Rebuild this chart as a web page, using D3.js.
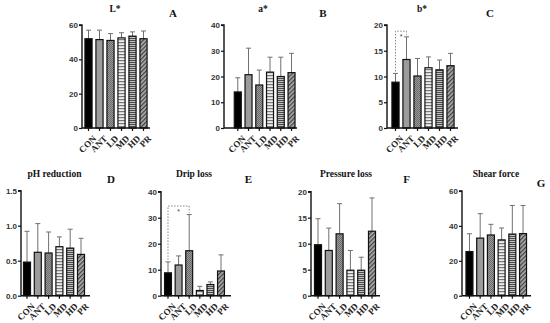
<!DOCTYPE html>
<html><head><meta charset="utf-8">
<script src="https://cdn.jsdelivr.net/npm/d3@7"></script>
<style>body{margin:0;background:#fff}svg{display:block}</style>
</head><body>
<script>
const categories = ["CON","ANT","LD","MD","HD","PR"];
const titles = ["L*","a*","b*","pH reduction","Drip loss","Pressure loss","Shear force"];
const letters = ["A","B","C","D","E","F","G"];
const Lstar = [52, 51.5, 51, 52.5, 53.5, 52];
const LstarErr = [57, 57, 55, 55.5, 56, 56.5];
const astar = [14, 20.7, 16.7, 21.7, 20, 21.5];
const astarErr = [19.5, 31, 22.5, 27.5, 27.5, 29];
const bstar = [8.9, 13.3, 10.1, 11.7, 11.3, 12.1];
const bstarErr = [10.6, 17.7, 13.5, 13.8, 13.2, 14.5];
const pH = [0.48, 0.62, 0.61, 0.70, 0.68, 0.59];
const pHErr = [0.92, 1.03, 0.91, 0.84, 0.95, 0.82];
const drip = [8.8, 11.8, 17.3, 2.0, 4.3, 9.5];
const dripErr = [13, 15.3, 31.2, 3.6, 5.3, 15.7];
const pressure = [9.8, 8.7, 11.9, 4.9, 4.9, 12.4];
const pressureErr = [14.8, 13, 17.7, 8.7, 7.4, 18.8];
const shear = [25.3, 33, 34.8, 32, 35.3, 35.6];
const shearErr = [35.5, 47, 40.9, 38.8, 51.7, 51.7];
const ticksA = [0,20,40,60], ticksB = [0,10,20,30,40], ticksC = [0,5,10,15,20],
      ticksD = [0,0.5,1.0,1.5], ticksE = [0,10,20,30,40], ticksF = [0,5,10,15,20], ticksG = [0,20,40,60];
// significance brackets: [from category, to category, bracket height value]
const sigC = ["CON","ANT",18.8];
const sigE = ["CON","LD",34.5];

const svg = d3.select("body").append("svg").attr("width",550).attr("height",323);
const defs = svg.append("defs");
function pat(id,w,h,bg,draw){
  const p = defs.append("pattern").attr("id",id).attr("patternUnits","userSpaceOnUse").attr("width",w).attr("height",h);
  p.append("rect").attr("width",w).attr("height",h).attr("fill",bg);
  draw(p);
}
pat("pLD",2,2,"#9a9a9a",p=>{p.append("rect").attr("width",1).attr("height",1).attr("fill","#6a6a6a");p.append("rect").attr("x",1).attr("y",1).attr("width",1).attr("height",1).attr("fill","#6a6a6a");});
pat("pMD",3,3,"#eeeeee",p=>{p.append("rect").attr("width",3).attr("height",1.2).attr("fill","#777");});
pat("pHD",2,2,"#c0c0c0",p=>{p.append("rect").attr("width",2).attr("height",1).attr("fill","#4a4a4a");});
pat("pPR",3,3,"#b0b0b0",p=>{p.attr("patternTransform","rotate(45)");p.append("rect").attr("width",1.3).attr("height",3).attr("fill","#404040");});
const fills = ["#000","#9c9c9c","url(#pLD)","url(#pMD)","url(#pHD)","url(#pPR)"];

const panels = [
 {v:Lstar,e:LstarErr,ticks:ticksA,max:60,ax:82,xe:150,band:[83,149],top:25,bot:128,tx:115,ty:12,lx:173,ly:17},
 {v:astar,e:astarErr,ticks:ticksB,max:40,ax:224,xe:297,band:[232.4,296.9],top:25,bot:128,tx:263,ty:12,lx:323,ly:17},
 {v:bstar,e:bstarErr,ticks:ticksC,max:20,ax:387,xe:458,band:[390,456],top:25,bot:128,tx:422,ty:12,lx:490,ly:17,sig:sigC},
 {v:pH,e:pHErr,ticks:ticksD,max:1.5,ax:21,xe:90,band:[21.6,86.4],top:190.7,bot:295.7,tx:54.5,ty:177,lx:111,ly:183,fmt:d3.format(".1f")},
 {v:drip,e:dripErr,ticks:ticksE,max:40,ax:161,xe:231,band:[162.7,226.3],top:191.7,bot:295.7,tx:194,ty:177,lx:248.5,ly:183,sig:sigE},
 {v:pressure,e:pressureErr,ticks:ticksF,max:20,ax:311,xe:380,band:[312.6,377.4],top:191.7,bot:295.7,tx:346,ty:177,lx:406.5,ly:183},
 {v:shear,e:shearErr,ticks:ticksG,max:60,ax:462,xe:531,band:[464.1,528.4],top:191,bot:295.7,tx:496,ty:177,lx:541,ly:187}
];

panels.forEach((P,i)=>{
  const g = svg.append("g");
  const x = d3.scaleBand().domain(categories).range(P.band).paddingInner(0.35).paddingOuter(0.175);
  const y = d3.scaleLinear().domain([0,P.max]).range([P.bot,P.top]);
  const data = categories.map((c,k)=>({c,v:P.v[k],e:P.e[k],k}));
  const eg = g.append("g").attr("stroke","#707070").attr("stroke-width",1);
  data.forEach(d=>{
    const cx = x(d.c)+x.bandwidth()/2;
    eg.append("line").attr("x1",cx).attr("x2",cx).attr("y1",y(d.v)).attr("y2",y(d.e));
    eg.append("line").attr("x1",cx-2.5).attr("x2",cx+2.5).attr("y1",y(d.e)).attr("y2",y(d.e));
  });
  g.selectAll("rect.bar").data(data).join("rect").attr("class","bar")
    .attr("x",d=>x(d.c)).attr("width",x.bandwidth())
    .attr("y",d=>y(d.v)).attr("height",d=>y(0)-y(d.v))
    .attr("fill",d=>fills[d.k]).attr("stroke","#111").attr("stroke-width",1.2);
  const ya = g.append("g").attr("transform",`translate(${P.ax},0)`)
    .call(d3.axisLeft(y).tickValues(P.ticks).tickSize(3).tickPadding(1).tickFormat(P.fmt||d3.format("d")));
  ya.select(".domain").attr("stroke","#111").attr("stroke-width",1.4).attr("d",`M-3,${P.top}H0V${P.bot}`);
  ya.selectAll(".tick line").attr("stroke","#111").attr("stroke-width",1.2);
  ya.selectAll(".tick text").attr("font-family","Liberation Sans, Arial, sans-serif").attr("font-weight","bold").attr("font-size",8).attr("fill","#333");
  const xa = g.append("g").attr("transform",`translate(0,${P.bot})`).call(d3.axisBottom(x).tickSize(3).tickSizeOuter(0));
  xa.select(".domain").attr("stroke","#111").attr("stroke-width",1.4).attr("d",`M${P.ax},0H${P.xe}`);
  xa.selectAll(".tick line").attr("stroke","#111").attr("stroke-width",1.2);
  xa.selectAll(".tick text").attr("font-family","Liberation Serif, Times New Roman, serif").attr("font-weight","bold").attr("font-size",9).attr("fill","#222")
    .attr("text-anchor","end").attr("dy",0).attr("transform","translate(4,7) rotate(-45)");
  g.append("text").attr("x",P.tx).attr("y",P.ty).attr("text-anchor","middle").attr("font-family","Liberation Serif, Times New Roman, serif").attr("font-weight","bold").attr("font-size",9.5).attr("fill","#111").text(titles[i]);
  g.append("text").attr("x",P.lx).attr("y",P.ly).attr("text-anchor","middle").attr("font-family","Liberation Serif, Times New Roman, serif").attr("font-weight","bold").attr("font-size",11).attr("fill","#111").text(letters[i]);
  if(P.sig){
    const [a,b,h] = P.sig;
    const ia = categories.indexOf(a), ib = categories.indexOf(b);
    const xa1 = x(a)+x.bandwidth()/2, xb1 = x(b)+x.bandwidth()/2;
    g.append("path").attr("fill","none").attr("stroke","#777").attr("stroke-width",0.9).attr("stroke-dasharray","1.5,1.5")
      .attr("d",`M${xa1},${y(P.e[ia])-2}V${y(h)}H${xb1}V${y(P.e[ib])-2}`);
    g.append("text").attr("x",(xa1+xb1)/2).attr("y",y(h)+8).attr("text-anchor","middle").attr("font-family","Liberation Sans, Arial, sans-serif").attr("font-size",7).attr("fill","#444").text("*");
  }
});
</script>
</body></html>
